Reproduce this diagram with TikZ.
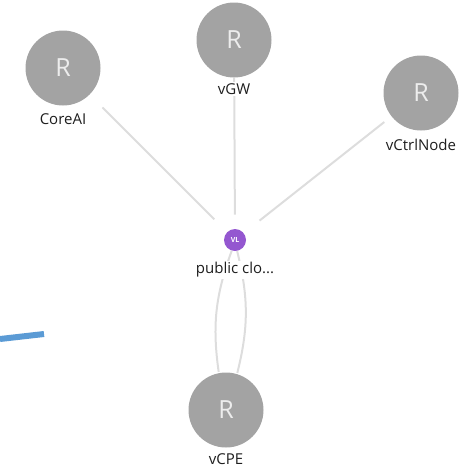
\documentclass[tikz,border=0pt]{standalone}
\usepackage{fontspec}
\setmainfont{Open Sans}
\usetikzlibrary{positioning,backgrounds}

\definecolor{routergray}{HTML}{A3A3A3}
\definecolor{rletter}{HTML}{EDEDED}
\definecolor{vlpurple}{HTML}{9457D0}
\definecolor{linkgray}{HTML}{DDDDDD}
\definecolor{labeltext}{HTML}{1E1E1E}
\definecolor{markblue}{HTML}{5B9BD5}

\begin{document}
\begin{tikzpicture}[x=1pt, y=-1pt,
semithick,
router/.style={circle, fill=routergray, text=rletter, minimum size=75pt, inner sep=0pt, font=\fontsize{25}{25}\selectfont},
vlink/.style={circle, fill=vlpurple, text=white, minimum size=22pt, inner sep=0pt, font=\bfseries\fontsize{7}{7}\selectfont},
tag/.style={fill=white, inner sep=1.5pt, text=labeltext, font=\fontsize{15}{15}\selectfont},
link/.style={draw=linkgray, line width=2pt}]

\useasboundingbox (0,0) rectangle (476,472);

\node[router]		(core)	at (63,68)		{R};
\node[router]		(vgw)	at (234,40)		{R};
\node[router]		(ctrl)	at (421,93)		{R};
\node[router]		(cpe)	at (226,410)	{R};
\node[vlink]		(vl)	at (235,240)	{VL};

\node[tag]	(coretag)	[below=6pt of core]	{CoreAI};
\node[tag]	(vgwtag)	[below=4pt of vgw]	{vGW};
\node[tag]	(ctrltag)	[below=6pt of ctrl]	{vCtrlNode};
\node[tag]	(cpetag)	[below=4pt of cpe]	{vCPE};
\node[tag]	(vltag)		[below=9pt of vl]	{public clo...};

\coordinate (bluea) at (0,339);
\coordinate (blueb) at (44,334);

\begin{scope}[on background layer]
\path[link]
 (core)		edge[shorten <=18pt, shorten >=18pt]		(vl)
 (vgw)		edge[shorten >=14pt]						(vl)
 (ctrl)		edge[shorten <=9pt, shorten >=20pt]		(vl)
 (vl)		edge[bend right=14, shorten >=1pt]			(cpe)
 (vl)		edge[bend left=14, shorten >=1pt]			(cpe);
\end{scope}

\draw[markblue, line width=6pt] (bluea) -- (blueb);

\end{tikzpicture}
\end{document}
